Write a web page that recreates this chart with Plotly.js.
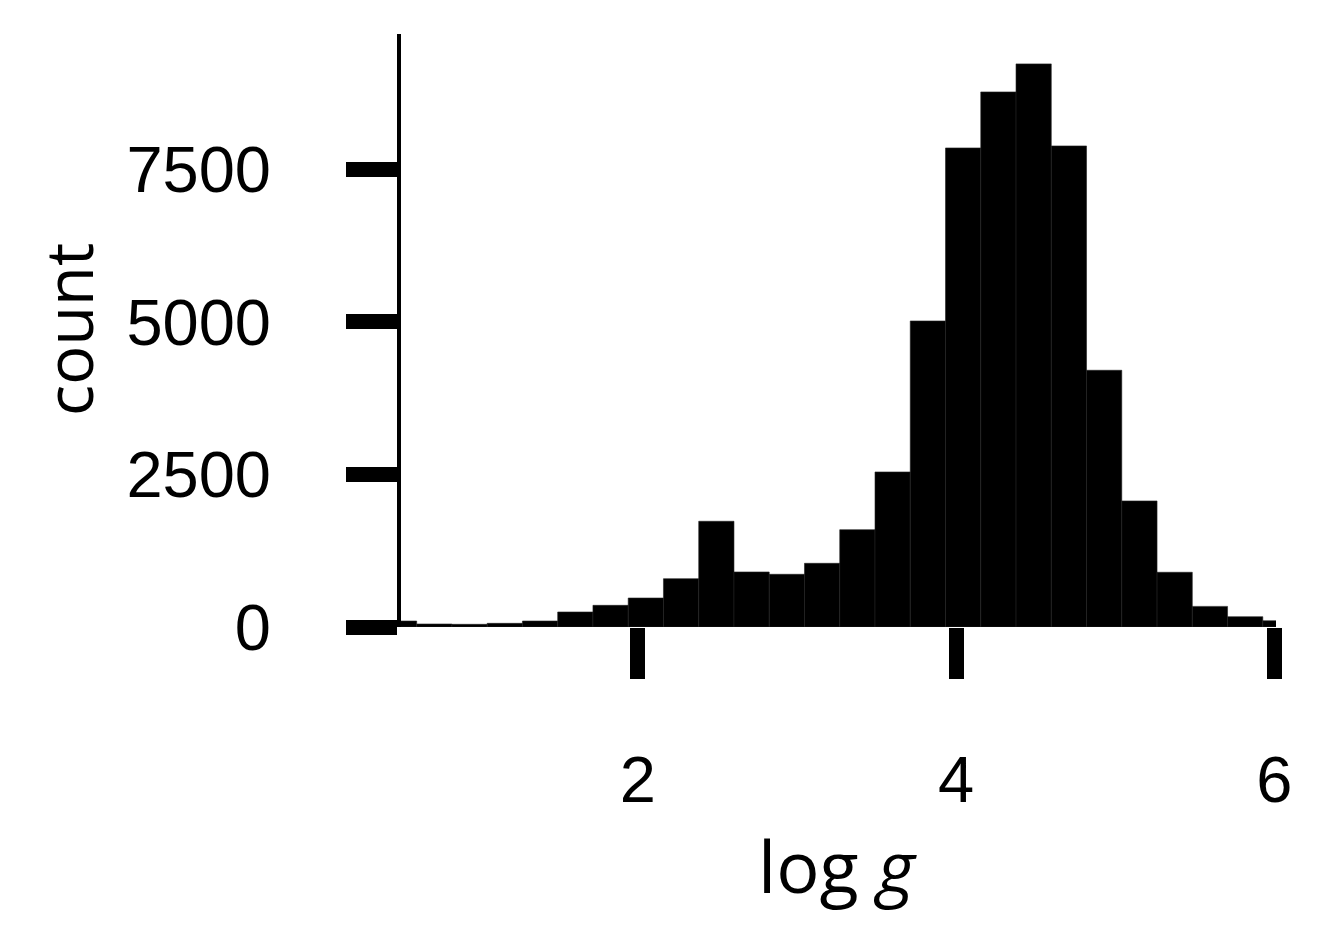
<!DOCTYPE html>
<html><head><meta charset="utf-8">
<script src="https://cdn.plot.ly/plotly-3.0.1.min.js"></script>
<style>html,body{margin:0;padding:0;background:#fff}</style>
</head><body>
<div id="chart" style="width:1330px;height:946px"></div>
<script>
const binStart = 0.3896;
const binWidth = 0.2215;
const counts = [98, 49, 44, 60, 98, 246, 355, 475, 792, 1733, 902, 864, 1044, 1595, 2541, 5016, 7852, 8770, 9230, 7885, 4208, 2066, 897, 338, 169, 103];
const xTickVals = [2, 4, 6];
const xTickText = ['2', '4', '6'];
const yTickVals = [0, 2500, 5000, 7500];
const yTickText = ['0', '2500', '5000', '7500'];
const xLabel = 'log <i>g</i>';
const yLabel = 'count';

const centers = counts.map((c, i) => binStart + binWidth * (i + 0.5));
const widths = counts.map(() => binWidth);

const trace = {
  type: 'bar',
  x: centers,
  y: counts,
  width: widths,
  marker: {color: '#000000', line: {color: '#222222', width: 0.6}},
  hoverinfo: 'x+y'
};

const tickFont = {family: '"Liberation Sans", Arial, sans-serif', size: 65, color: '#000'};
const titleFont = {family: '"Open Sans", sans-serif', color: '#000'};

const layout = {
  width: 1330, height: 946,
  margin: {l: 401, r: 54, t: 34, b: 319, pad: 0},
  paper_bgcolor: '#fff', plot_bgcolor: '#fff',
  showlegend: false,
  bargap: 0,
  xaxis: {
    range: [0.5126, 6.01], showline: false, zeroline: false, showgrid: false,
    ticks: 'outside', ticklen: 51, tickwidth: 15, tickcolor: '#000',
    tickmode: 'array', tickvals: xTickVals, ticktext: xTickText,
    tickfont: tickFont, ticklabelstandoff: 45
  },
  yaxis: {
    range: [0, 9720], showline: true, linewidth: 4, linecolor: '#000',
    zeroline: false, showgrid: false,
    ticks: 'outside', ticklen: 51, tickwidth: 15, tickcolor: '#000',
    tickmode: 'array', tickvals: yTickVals, ticktext: yTickText,
    tickfont: tickFont, ticklabelstandoff: 62
  },
  annotations: [
    {text: xLabel, xref: 'paper', yref: 'paper', x: (837 - 401) / 875, y: 0,
     xanchor: 'center', yanchor: 'top', yshift: -187, showarrow: false,
     font: Object.assign({size: 72}, titleFont)},
    {text: yLabel, xref: 'paper', yref: 'paper', x: 0, y: (627 - 330) / 593,
     xanchor: 'center', yanchor: 'middle', xshift: -333, textangle: -90, showarrow: false,
     font: Object.assign({size: 65}, titleFont)}
  ]
};

Plotly.newPlot('chart', [trace], layout, {displayModeBar: false, staticPlot: true});
</script>
</body></html>
